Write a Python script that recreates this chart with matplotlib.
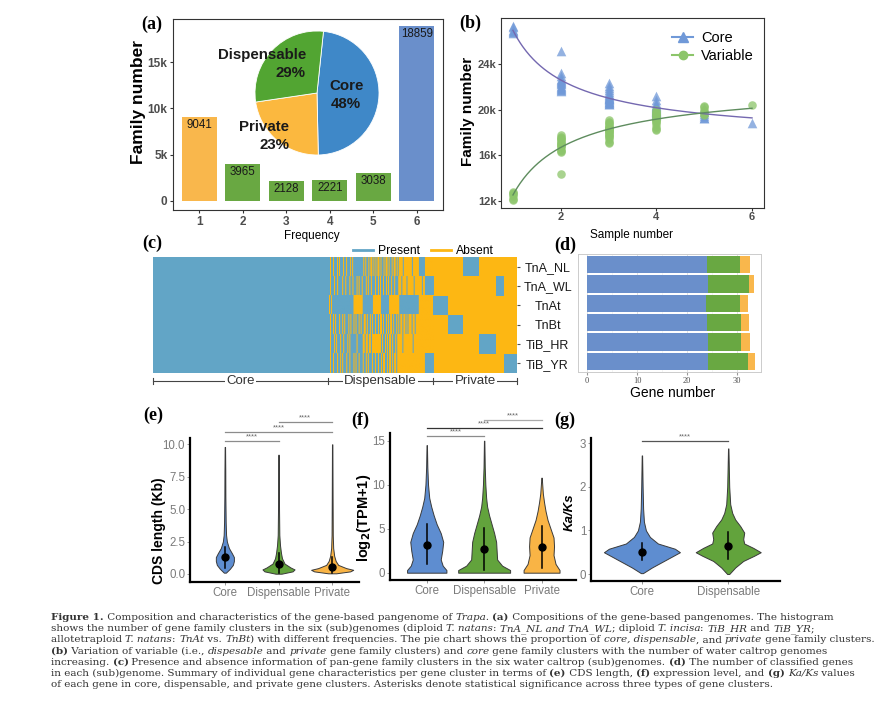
import numpy as np
import matplotlib
matplotlib.use("Agg")
import matplotlib.pyplot as plt
import matplotlib.transforms as mtransforms
from matplotlib.colors import ListedColormap
from matplotlib.lines import Line2D
from matplotlib.font_manager import FontProperties

plt.rcParams["font.family"] = "Liberation Sans"

W, H = 883, 720

# ---------------- data ----------------
freq = [1, 2, 3, 4, 5, 6]
family_counts = [9041, 3965, 2128, 2221, 3038, 18859]

pie_names = ["Core", "Private", "Dispensable"]
pie_pct = [48, 23, 29]

sample_n = [1, 2, 3, 4, 5, 6]
core_pts = [
    [27300, 27000, 26900, 26800, 26700, 27200],
    [25100, 23200, 22900, 22700, 22500, 22400, 22300, 22200, 22100, 22000, 21900, 21800, 21700, 21600, 22600],
    [22300, 22100, 21900, 21700, 21500, 21400, 21200, 21100, 21000, 20900, 20800, 20700, 20600, 20500, 20450,
     21300, 20950, 20750, 21050, 20650],
    [21200, 20800, 20600, 20400, 20300, 20200, 20100, 20000, 19900, 19800, 19700, 19600, 19500, 20050, 19850],
    [20150, 19800, 19600, 19450, 19300, 19250],
    [18859],
]
var_pts = [
    [12800, 12600, 12400, 12200, 12100, 12700],
    [17800, 17600, 17500, 17300, 17200, 17100, 16900, 16800, 16700, 16500, 16400, 16300, 17000, 17400, 14400],
    [19100, 18900, 18800, 18600, 18500, 18400, 18300, 18200, 18100, 18000, 17900, 17800, 17600, 17400, 17200,
     17100, 18700, 18350, 17700, 18050],
    [20000, 19800, 19600, 19500, 19400, 19300, 19200, 19100, 19000, 18900, 18700, 18500, 18300, 18200, 19700],
    [20350, 20200, 20000, 19800, 19600, 19500],
    [20393],
]

genomes = ["TnA_NL", "TnA_WL", "TnAt", "TnBt", "TiB_HR", "TiB_YR"]
n_core = 18859
n_disp = 3965 + 2128 + 2221 + 3038
# private blocks, left to right
priv_order = ["TnAt", "TnBt", "TnA_NL", "TiB_HR", "TnA_WL", "TiB_YR"]
priv_families = [1600, 1580, 1801, 1800, 860, 1400]
# dispensable presence pattern (B = present, Y = absent), read left to right
disp_rows = [
    "BBYBBYBBBYBYBBBYBBYBBBYBYB" + "BBBBBBBBB" + "YBYBBYBYYBY" + "BYBYYBYBBYBYYBYBBYBYYBYB"
    + "YYYYBYYYYYYYYBYYYYYY" + "BBBBBB" + "YYYYYYYYY",
    "BBYBBBYBBYBBBBYBBYBBBYBBYBBBYB" + "YBBYBBBYBYBBYBBBYBBYBYBB" + "YBBYBYBBYBBYBBB"
    + "YYYBYYYYBYYYYYYBYYYYYYYBYY" + "BBBBBBBBB",
    "BYBYB" + "BBBBBBBBBBBBBBBBBBBB" + "YYYYYYYYY" + "BBBBBBBBBB" + "YYYYYYYY" + "BBBBBBBB"
    + "YYYYYYYYYY" + "BBBBBBBBBBBBBBBBBBB" + "YYYYYYYYYYYYYYY",
    "BBYBBYBYBBBYBBYBYBBBYBYBB" + "YBYBBYBYB" + "BYYBYBBYBYB" + "BYBBYBYYBYBBYBYBYYBYBBYB"
    + "YBYYBYYBYBYYYBYYBYYY" + "YYYYYYYYYYYYYYY",
    "BBYBBBYBYBBBYBBYBBBYBYBBB" + "BBBYBBBBB" + "YYBYYBYYBYY" + "YYYYYYY" + "BYBBYBYBYYBYBBYBY"
    + "YYYYBYYYYYYYYYBYYYYYYYYYYY" + "YYYYYYYYY",
    "BBYBBYBBBYBBYBYBBBYBBYBBBYBYBBYBBBYBBYBYBBBYBBYBBYBB" + "YBYYBBYBYYBYBYYBY"
    + "YYYYYYYYYYYYYYYYYYYYYYYYYY" + "BBBBBBBBB",
]

core_genes = [24.0, 24.1, 23.8, 23.9, 24.1, 24.1]
disp_genes = [6.5, 8.2, 6.7, 6.9, 6.7, 8.0]
priv_genes = [2.0, 1.0, 1.6, 1.5, 1.7, 1.4]

cats3 = ["Core", "Dispensable", "Private"]
cats2 = ["Core", "Dispensable"]

# violin outlines: value levels and half width (px)
cds_y = [[0.1, 0.4, 0.7, 1.0, 1.3, 1.6, 2.0, 2.5, 3.0, 4.0, 6.0, 8.0, 9.8],
         [0.02, 0.2, 0.35, 0.5, 0.8, 1.2, 1.6, 2.2, 3.0, 5.0, 7.0, 9.2],
         [0.05, 0.2, 0.32, 0.45, 0.7, 1.0, 1.4, 2.0, 3.0, 6.0, 10.0]]
cds_w = [[1, 5, 8, 9, 9, 7, 4, 2, 1.2, 0.8, 0.5, 0.4, 0.2],
         [3, 14, 16, 12, 6, 3.5, 2.5, 1.5, 0.8, 0.5, 0.4, 0.2],
         [4, 18, 21, 14, 6, 3.5, 2, 1, 0.6, 0.4, 0.2]]
cds_med = [1.33, 0.77, 0.56]
cds_lo = [0.44, 0.07, 0.07]
cds_hi = [2.1, 1.6, 1.33]

tpm_y = [[0.0, 0.3, 0.8, 1.5, 2.5, 3.5, 4.5, 5.5, 6.5, 7.5, 8.5, 10, 12, 14.5],
         [0.0, 0.3, 0.8, 1.5, 2.5, 3.5, 4.5, 5.5, 6.5, 7.5, 8.5, 10, 12, 15],
         [0.0, 0.3, 1, 2, 3, 4, 5, 6, 7, 8, 9, 10.8]]
tpm_w = [[19.7, 19.7, 16, 14, 15.5, 16.5, 14, 10, 7, 4.5, 2.5, 1.3, 0.6, 0.2],
         [26, 26, 18, 13, 12.5, 12, 10, 7.5, 5, 3, 2, 1.2, 0.6, 0.2],
         [18, 18, 14, 12, 12.5, 12, 9, 6, 4, 2.5, 1.3, 0.2]]
tpm_med = [3.2, 2.66, 2.92]
tpm_lo = [1.0, 0.3, 0.56]
tpm_hi = [5.5, 5.05, 5.3]

kaks_y = [[0.02, 0.15, 0.3, 0.4, 0.5, 0.58, 0.7, 0.85, 1.0, 1.2, 1.5, 2.0, 2.72],
          [0.0, 0.15, 0.3, 0.42, 0.5, 0.6, 0.7, 0.8, 0.95, 1.1, 1.25, 1.4, 1.6, 2.0, 2.88]]
kaks_w = [[1, 10, 22, 30, 38, 33, 16, 8, 4, 2, 1.2, 0.7, 0.2],
          [1, 7, 15, 26, 32.5, 25, 16, 15, 16, 12, 7, 4, 2, 1, 0.2]]
kaks_med = [0.51, 0.65]
kaks_lo = [0.32, 0.34]
kaks_hi = [0.72, 0.97]

# ---------------- colours ----------------
c_core, c_disp, c_priv = "#6A8FCB", "#69A842", "#F9B74C"
present, absent = "#62A5C6", "#FDB713"

fig = plt.figure(figsize=(W / 100, H / 100), dpi=100)


def box(l, t, r, b):
    return [l / W, 1 - b / H, (r - l) / W, (b - t) / H]


def ftext(x, y, s, **kw):
    kw.setdefault("ha", "center")
    kw.setdefault("va", "center")
    return fig.text(x / W, 1 - y / H, s, **kw)


def letter(x, y, s):
    ftext(x, y, s, family="Liberation Serif", fontweight="bold", fontsize=13)


def bold_ticks(ax):
    for lab in ax.get_xticklabels() + ax.get_yticklabels():
        lab.set_fontweight("bold")


# ---------------- (a) ----------------
ax = fig.add_axes(box(173, 19, 443, 210))
ax.bar(freq, family_counts, width=0.8, color=[c_priv] + [c_disp] * 4 + [c_core])
for x, v in zip(freq, family_counts):
    ax.annotate(str(v), (x, v), xytext=(0, -1.5), textcoords="offset points",
                ha="center", va="top", fontsize=8.3, color="#1a1a1a")
ax.set_xlim(0.4, 6.6)
ax.set_ylim(-1000, 19650)
ax.set_xticks(freq)
ax.set_yticks([0, 5000, 10000, 15000])
ax.set_yticklabels(["0", "5k", "10k", "15k"])
ax.tick_params(labelsize=8.5, labelcolor="#4D4D4D", color="#333333", length=2.5, pad=1.5)
bold_ticks(ax)
for s in ax.spines.values():
    s.set_color("#333333")
    s.set_linewidth(0.8)
ftext(139, 102, "Family number", rotation=90, fontsize=12.5, fontweight="bold")
ftext(312, 236, "Frequency", fontsize=8.5)
letter(152, 24, "(a)")

pax = fig.add_axes(box(255, 31, 379, 155))
pax.pie(pie_pct, colors=["#3F88C8", "#FBB83F", "#52A532"], startangle=84, counterclock=False,
        wedgeprops=dict(edgecolor="white", linewidth=0.6))
pax.set_xlim(-1, 1)
pax.set_ylim(-1, 1)
pax.set_aspect("equal")
pax.axis("off")
lab_kw = dict(fontsize=10.8, fontweight="bold", color="#1a1a1a")
ftext(347, 86, pie_names[0], **lab_kw)
ftext(346, 104, f"{pie_pct[0]}%", **lab_kw)
ftext(289, 127, pie_names[1], ha="right", **lab_kw)
ftext(289, 145, f"{pie_pct[1]}%", ha="right", **lab_kw)
ftext(306, 55, pie_names[2], ha="right", **lab_kw)
ftext(306, 73, f"{pie_pct[2]}%", ha="right", **lab_kw)

# ---------------- (b) ----------------
ax = fig.add_axes(box(501, 18, 764, 208))


def power_fit(xs, ys):
    best = None
    for c in np.linspace(-3, 2, 501):
        if abs(c) < 1e-9:
            continue
        A = np.column_stack([np.ones_like(xs), xs ** c])
        coef = np.linalg.lstsq(A, ys, rcond=None)[0]
        err = np.sum((A @ coef - ys) ** 2)
        if best is None or err < best[0]:
            best = (err, c, coef)
    return best[1], best[2]


xs_dense = np.linspace(1, 6, 200)
for pts, mk, col, lcol, sz in [(core_pts, "^", "#7099D8", "#7468B0", 48),
                               (var_pts, "o", "#8CC56A", "#5E8C5E", 38)]:
    xs = np.concatenate([[n] * len(p) for n, p in zip(sample_n, pts)]).astype(float)
    ys = np.concatenate(pts).astype(float)
    ax.scatter(xs, ys, marker=mk, s=sz, color=col, alpha=0.75, linewidths=0, zorder=2)
    c, coef = power_fit(xs, ys)
    ax.plot(xs_dense, coef[0] + coef[1] * xs_dense ** c, color=lcol, lw=1.0, zorder=3)
ax.set_xlim(0.75, 6.25)
ax.set_ylim(11390, 28020)
ax.set_xticks([2, 4, 6])
ax.set_yticks([12000, 16000, 20000, 24000])
ax.set_yticklabels(["12k", "16k", "20k", "24k"])
ax.tick_params(labelsize=8, labelcolor="#4D4D4D", color="#333333", length=2, pad=1)
bold_ticks(ax)
for s in ax.spines.values():
    s.set_color("#333333")
    s.set_linewidth(0.8)
handles = [Line2D([], [], color="#7099D8", marker="^", markersize=7, lw=1.5),
           Line2D([], [], color="#8CC56A", marker="o", markersize=6, lw=1.5)]
ax.legend(handles, ["Core", "Variable"], loc="upper right", bbox_to_anchor=(1.01, 1.0), frameon=False,
          fontsize=10.5, handlelength=1.5, handletextpad=0.5, labelspacing=0.3)
ftext(468, 111, "Family number", rotation=90, fontsize=11, fontweight="bold")
ftext(632, 235, "Sample number", fontsize=8.5)
letter(470, 23, "(b)")

# ---------------- (c) ----------------
ax = fig.add_axes(box(153, 257, 517, 373))
ax.set_facecolor(absent)
rows = np.arange(len(genomes))
ax.barh(rows, n_core, left=0, height=1.0, color=present, linewidth=0)
cmap = ListedColormap([absent, present])
for r, pat in enumerate(disp_rows):
    arr = np.array([[1.0 if ch == "B" else 0.0 for ch in pat]])
    ax.imshow(arr, cmap=cmap, vmin=0, vmax=1, aspect="auto", interpolation="antialiased",
              extent=[n_core, n_core + n_disp, r + 0.5, r - 0.5])
left = n_core + n_disp
for g, n in zip(priv_order, priv_families):
    ax.barh(genomes.index(g), n, left=left, height=1.0, color=present, linewidth=0)
    left += n
n_total = n_core + n_disp + sum(priv_families)
ax.set_xlim(0, n_total)
ax.set_ylim(len(genomes) - 0.5, -0.5)
for s in ax.spines.values():
    s.set_visible(False)
ax.set_xticks([])
ax.yaxis.tick_right()
ax.set_yticks(rows)
ax.set_yticklabels(genomes)
ax.tick_params(axis="y", length=2.5, color="#555555", labelsize=9, pad=19.5, labelcolor="#1a1a1a")
for lab in ax.get_yticklabels():
    lab.set_ha("center")
ax.legend([Line2D([], [], color=present, lw=2), Line2D([], [], color=absent, lw=2)],
          ["Present", "Absent"], loc="lower left", bbox_to_anchor=(0.545, 0.99), ncol=2, frameon=False,
          fontsize=8.7, handlelength=1.7, columnspacing=0.9, handletextpad=0.4, borderaxespad=0, borderpad=0.1)
# group brackets
tr = mtransforms.blended_transform_factory(ax.transData, ax.transAxes)
edges = [0, n_core, n_core + n_disp, n_total]
by = -0.069
ax.plot([0, n_total], [by, by], color="#444444", lw=0.8, transform=tr, clip_on=False)
for e in edges:
    ax.plot([e, e], [by - 0.025, by + 0.025], color="#444444", lw=0.8, transform=tr, clip_on=False)
for name, a, b in zip(["Core", "Dispensable", "Private"], edges[:-1], edges[1:]):
    ax.text((a + b) / 2, by, name, transform=tr, ha="center", va="center", fontsize=9.5, color="#333333",
            bbox=dict(facecolor="white", edgecolor="none", pad=0.8))
letter(152, 243, "(c)")

# ---------------- (d) ----------------
ax = fig.add_axes(box(578, 254, 761, 372))
ax.barh(rows, core_genes, height=0.9, color=c_core, zorder=2)
ax.barh(rows, disp_genes, left=core_genes, height=0.9, color=c_disp, zorder=2)
ax.barh(rows, priv_genes, left=np.add(core_genes, disp_genes), height=0.9, color=c_priv, zorder=2)
ax.set_xlim(-1.8, 34.8)
ax.set_ylim(len(genomes) - 0.45, -0.55)
ax.set_xticks([0, 10, 20, 30])
ax.set_xticks([5, 15, 25], minor=True)
ax.set_yticks([])
ax.grid(which="major", axis="x", color="#E3E3E3", lw=0.7, zorder=0)
ax.grid(which="minor", axis="x", color="#F0F0F0", lw=0.5, zorder=0)
ax.tick_params(axis="x", which="major", length=2, color="#999999", labelsize=6, labelcolor="#4D4D4D", pad=1.5)
ax.tick_params(axis="x", which="minor", length=0)
for lab in ax.get_xticklabels():
    lab.set_family("Liberation Serif")
for s in ax.spines.values():
    s.set_color("#CCCCCC")
    s.set_linewidth(0.7)
ftext(673, 393, "Gene number", fontsize=10)
letter(565, 245, "(d)")


# ---------------- (e)(f)(g) ----------------
def violin_panel(rect, xlim, ylim, yticks, yticklabels, cats, ys, ws, px_unit, meds, los, his, colors):
    ax = fig.add_axes(box(*rect))
    for i, (yv, wv, col) in enumerate(zip(ys, ws, colors)):
        pos = i + 1
        half = np.array(wv) / px_unit
        ax.fill_betweenx(yv, pos - half, pos + half, facecolor=col, edgecolor="#3a3a3a", lw=0.7, zorder=2)
        ax.plot([pos, pos], [los[i], his[i]], color="black", lw=1.1, zorder=3)
        ax.plot(pos, meds[i], "o", color="black", ms=5, zorder=4)
    ax.set_xlim(*xlim)
    ax.set_ylim(*ylim)
    ax.set_yticks(yticks)
    ax.set_yticklabels(yticklabels)
    ax.set_xticks(range(1, len(cats) + 1))
    ax.set_xticklabels(cats)
    for s in ["top", "right"]:
        ax.spines[s].set_visible(False)
    for s in ["left", "bottom"]:
        ax.spines[s].set_linewidth(1.6)
    ax.tick_params(color="#888888", labelcolor="#7A7A7A", labelsize=8.3, length=2, width=0.6, pad=1.5)
    return ax


def sig_bar(ax, a, b, y, color="#8C8C8C"):
    ax.plot([a, b], [y, y], color=color, lw=0.9, clip_on=False)
    ax.annotate("****", ((a + b) / 2, y), xytext=(0, 0.4), textcoords="offset points", ha="center",
                va="bottom", fontsize=5.5, color="#666666", annotation_clip=False)


cols3 = ["#5E8DD0", "#62A33C", "#F9B445"]

ax = violin_panel((190, 438, 359, 582), (0.35, 3.5), (-0.62, 10.49), [0, 2.5, 5, 7.5, 10],
                  ["0.0", "2.5", "5.0", "7.5", "10.0"], cats3, cds_y, cds_w, 53.5,
                  cds_med, cds_lo, cds_hi, cols3)
sig_bar(ax, 1, 2, 10.28)
sig_bar(ax, 1, 3, 10.97)
sig_bar(ax, 2, 3, 11.74)
ftext(159, 531, "CDS length (Kb)", rotation=90, fontsize=10, fontweight="bold")
letter(153, 415, "(e)")

ax = violin_panel((390, 433, 576, 580), (0.36, 3.6), (-0.83, 15.88), [0, 5, 10, 15],
                  ["0", "5", "10", "15"], cats3, tpm_y, tpm_w, 57.5, tpm_med, tpm_lo, tpm_hi, cols3)
sig_bar(ax, 1, 2, 15.53)
sig_bar(ax, 1, 3, 16.4, color="#333333")
sig_bar(ax, 2, 3, 17.4, color="#AAAAAA")
ftext(364, 518, r"log$_\mathbf{2}$(TPM+1)", rotation=90, fontsize=10.5, fontweight="bold")
letter(360, 420, "(f)")

ax = violin_panel((591, 438, 780, 581), (0.41, 2.6), (-0.16, 3.12), [0, 1, 2, 3],
                  ["0", "1", "2", "3"], cats2, kaks_y, kaks_w, 86.3, kaks_med, kaks_lo, kaks_hi, cols3[:2])
sig_bar(ax, 1, 2, 3.05, color="#555555")
ftext(570, 512, "Ka/Ks", rotation=90, fontsize=9.5, fontweight="bold", fontstyle="italic")
letter(565, 420, "(g)")

# ---------------- caption ----------------
caption = [
    [("Figure 1.", "b"), (" Composition and characteristics of the gene-based pangenome of ", "n"), ("Trapa.", "i"),
     (" ", "n"), ("(a)", "b"), (" Compositions of the gene-based pangenomes. The histogram", "n")],
    [("shows the number of gene family clusters in the six (sub)genomes (diploid ", "n"), ("T. natans", "i"),
     (": ", "n"), ("TnA_NL and TnA_WL", "i"), ("; diploid ", "n"), ("T. incisa", "i"), (": ", "n"),
     ("TiB_HR", "i"), (" and ", "n"), ("TiB_YR", "i"), (";", "n")],
    [("allotetraploid ", "n"), ("T. natans", "i"), (": ", "n"), ("TnAt", "i"), (" vs. ", "n"), ("TnBt", "i"),
     (") with different frequencies. The pie chart shows the proportion of ", "n"), ("core, dispensable", "i"),
     (", and ", "n"), ("private", "i"), (" gene family clusters.", "n")],
    [("(b)", "b"), (" Variation of variable (i.e., ", "n"), ("dispesable", "i"), (" and ", "n"), ("private", "i"),
     (" gene family clusters) and ", "n"), ("core", "i"),
     (" gene family clusters with the number of water caltrop genomes", "n")],
    [("increasing. ", "n"), ("(c)", "b"),
     (" Presence and absence information of pan-gene family clusters in the six water caltrop (sub)genomes. ", "n"),
     ("(d)", "b"), (" The number of classified genes", "n")],
    [("in each (sub)genome. Summary of individual gene characteristics per gene cluster in terms of ", "n"),
     ("(e)", "b"), (" CDS length, ", "n"), ("(f)", "b"), (" expression level, and ", "n"), ("(g)", "b"),
     (" ", "n"), ("Ka/Ks", "i"), (" values", "n")],
    [("of each gene in core, dispensable, and private gene clusters. Asterisks denote statistical significance "
      "across three types of gene clusters.", "n")],
]

renderer = fig.canvas.get_renderer()
cap_size = 7.45


def run_width(txt, prop):
    w1 = renderer.get_text_width_height_descent("|" + txt + "|", prop, ismath=False)[0]
    w0 = renderer.get_text_width_height_descent("||", prop, ismath=False)[0]
    return w1 - w0


for li, line in enumerate(caption):
    x = 51.0
    y = 620 + li * 11.2
    for txt, st in line:
        prop = FontProperties(family="DejaVu Serif", size=cap_size,
                              weight="bold" if st == "b" else "normal",
                              style="italic" if st == "i" else "normal")
        fig.text(x / W, 1 - y / H, txt, fontproperties=prop, color="#333333", ha="left", va="baseline")
        x += run_width(txt, prop)

fig.savefig("out.png", dpi=100)
